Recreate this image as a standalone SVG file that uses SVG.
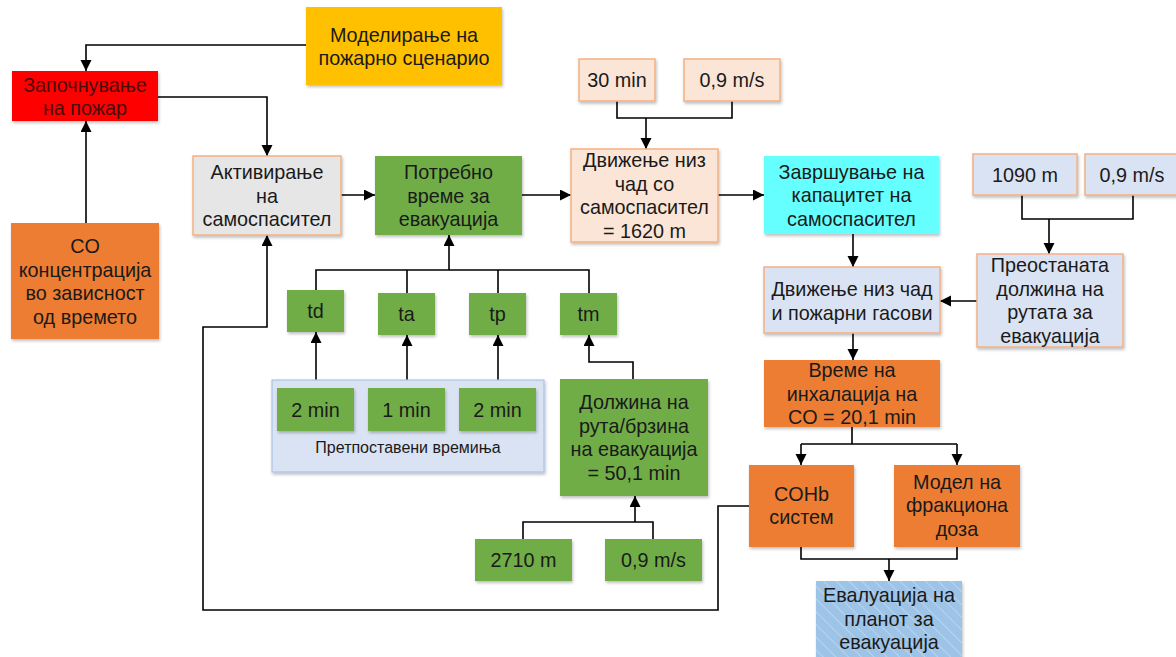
<svg xmlns="http://www.w3.org/2000/svg" width="1176" height="657" viewBox="0 0 1176 657">
<defs>
<marker id="arr" markerUnits="userSpaceOnUse" markerWidth="12" markerHeight="12" refX="11" refY="5.5" orient="auto">
<path d="M0,0 L11,5.5 L0,11 z" fill="#000"/>
</marker>
<filter id="sh" x="-10%" y="-10%" width="130%" height="130%">
<feDropShadow dx="1" dy="2" stdDeviation="1.5" flood-color="#000" flood-opacity="0.25"/>
</filter>
<pattern id="hatch" width="9" height="9" patternUnits="userSpaceOnUse" patternTransform="rotate(-45)">
<rect width="9" height="9" fill="#9DC3E6"/>
<line x1="0" y1="0" x2="0" y2="9" stroke="#B9D5EF" stroke-width="2"/>
</pattern>
</defs>
<style>
text{font-family:"Liberation Sans",Arial,sans-serif;font-size:19.8px;fill:#1a1a1a;text-anchor:middle}
.sm{font-size:16px}
.box{filter:url(#sh)}
.green{fill:#70AD47}
.orange{fill:#ED7D31}
.peach{fill:#FBE5D6;stroke:#F4B183;stroke-width:1.5}
.lav{fill:#DAE3F3;stroke:#F4B183;stroke-width:1.5}
.conn path{fill:none;stroke:#000;stroke-width:1.6}
</style>
<rect width="1176" height="657" fill="#fff"/>

<g id="connectors" class="conn">
<path d="M306,45 H86 V71" marker-end="url(#arr)"/>
<path d="M158,97 H267 V156" marker-end="url(#arr)"/>
<path d="M86,223 V121" marker-end="url(#arr)"/>
<path d="M341,195 H375" marker-end="url(#arr)"/>
<path d="M522,195 H571" marker-end="url(#arr)"/>
<path d="M617,101 V118 H732 V101"/>
<path d="M646,118 V149" marker-end="url(#arr)"/>
<path d="M718,195 H764" marker-end="url(#arr)"/>
<path d="M853,234 V267" marker-end="url(#arr)"/>
<path d="M1022,195 V219 H1133 V195"/>
<path d="M1049,219 V254" marker-end="url(#arr)"/>
<path d="M977,301 H940" marker-end="url(#arr)"/>
<path d="M853,333 V360" marker-end="url(#arr)"/>
<path d="M852,427 V444 M801,444 H957"/>
<path d="M801,444 V465" marker-end="url(#arr)"/>
<path d="M957,444 V465" marker-end="url(#arr)"/>
<path d="M801,547 V559 H957 V547"/>
<path d="M889,559 V581" marker-end="url(#arr)"/>
<path d="M749,506 H718 V610 H203 V327 H267 V235" marker-end="url(#arr)"/>
<path d="M316,290 V270 H589 V293 M407,270 V293 M498,270 V293"/>
<path d="M449,270 V235" marker-end="url(#arr)"/>
<path d="M316,388 V332" marker-end="url(#arr)"/>
<path d="M407,388 V335" marker-end="url(#arr)"/>
<path d="M498,388 V335" marker-end="url(#arr)"/>
<path d="M633,379 V362 H589 V335" marker-end="url(#arr)"/>
<path d="M523,539 V522 H653 V539"/>
<path d="M635,522 V496" marker-end="url(#arr)"/>
</g>

<g id="model">
<rect class="box" x="306" y="7" width="196" height="78" fill="#FFC000"/>
<text x="404" y="41.5">Моделирање на</text>
<text x="404" y="65">пожарно сценарио</text>
</g>
<g id="start">
<rect class="box" x="12" y="71" width="146" height="50" fill="#FF0000"/>
<text x="85" y="91.5" style="fill:#4a0c0c">Започнување</text>
<text x="85" y="115" style="fill:#4a0c0c">на пожар</text>
</g>
<g id="co">
<rect class="box orange" x="11" y="223" width="148" height="116"/>
<text x="85" y="253">CO</text>
<text x="85" y="276.5">концентрација</text>
<text x="85" y="300">во зависност</text>
<text x="85" y="323.5">од времето</text>
</g>
<g id="activ">
<rect class="box" x="193" y="156" width="148" height="79" fill="#E7E6E6" stroke="#F4B183" stroke-width="1.5"/>
<text x="267" y="179">Активирање</text>
<text x="267" y="202.5">на</text>
<text x="267" y="226">самоспасител</text>
</g>
<g id="potrebno">
<rect class="box green" x="375" y="156" width="147" height="79"/>
<text x="448.5" y="179">Потребно</text>
<text x="448.5" y="202.5">време за</text>
<text x="448.5" y="226">евакуација</text>
</g>
<g id="min30">
<rect class="box peach" x="579" y="59" width="76" height="42"/>
<text x="617" y="87">30 min</text>
</g>
<g id="speed1">
<rect class="box peach" x="684" y="59" width="96" height="42"/>
<text x="732" y="87">0,9 m/s</text>
</g>
<g id="dvizh1">
<rect class="box peach" x="571" y="149" width="147" height="93"/>
<text x="644.5" y="167.25">Движење низ</text>
<text x="644.5" y="190.75">чад со</text>
<text x="644.5" y="214.25">самоспасител</text>
<text x="644.5" y="237.75">= 1620 m</text>
</g>
<g id="zavrsh">
<rect class="box" x="764" y="156" width="175" height="78" fill="#66FFFF"/>
<text x="851.5" y="178.5">Завршување на</text>
<text x="851.5" y="202">капацитет на</text>
<text x="851.5" y="225.5">самоспасител</text>
</g>
<g id="m1090">
<rect class="box lav" x="973" y="154" width="104" height="41"/>
<text x="1025" y="181.5">1090 m</text>
</g>
<g id="speed2">
<rect class="box lav" x="1085" y="154" width="95" height="41"/>
<text x="1132" y="181.5">0,9 m/s</text>
</g>
<g id="preost">
<rect class="box lav" x="977" y="254" width="146" height="93"/>
<text x="1050" y="272.25">Преостаната</text>
<text x="1050" y="295.75">должина на</text>
<text x="1050" y="319.25">рутата за</text>
<text x="1050" y="342.75">евакуација</text>
</g>
<g id="dvizh2">
<rect class="box lav" x="764" y="267" width="176" height="66"/>
<text x="852" y="296">Движење низ чад</text>
<text x="852" y="319.5">и пожарни гасови</text>
</g>
<g id="vreme">
<rect class="box orange" x="764" y="360" width="176" height="67"/>
<text x="852" y="377">Време на</text>
<text x="852" y="400.5">инхалација на</text>
<text x="852" y="424">CO = 20,1 min</text>
</g>
<g id="cohb">
<rect class="box orange" x="749" y="465" width="105" height="82"/>
<text x="801.5" y="500.5">COHb</text>
<text x="801.5" y="524">систем</text>
</g>
<g id="model2">
<rect class="box orange" x="894" y="465" width="126" height="82"/>
<text x="957" y="488.5">Модел на</text>
<text x="957" y="512">фракциона</text>
<text x="957" y="535.5">доза</text>
</g>
<g id="eval">
<rect class="box" x="816" y="581" width="146" height="82" fill="url(#hatch)"/>
<text x="889" y="602">Евалуација на</text>
<text x="889" y="625.5">планот за</text>
<text x="889" y="649">евакуација</text>
</g>
<g id="td">
<rect class="box green" x="287" y="290" width="57" height="42"/>
<text x="315.5" y="318">td</text>
</g>
<g id="ta">
<rect class="box green" x="378" y="293" width="57" height="42"/>
<text x="406.5" y="321">ta</text>
</g>
<g id="tp">
<rect class="box green" x="469" y="293" width="57" height="42"/>
<text x="497.5" y="321">tp</text>
</g>
<g id="tm">
<rect class="box green" x="560" y="293" width="57" height="42"/>
<text x="588.5" y="321">tm</text>
</g>
<g id="assumed">
<rect class="box" x="272" y="380" width="272" height="92" fill="#DAE3F3" stroke="#A9C4E8" stroke-width="1.2"/>
<text class="sm" x="408" y="452.5">Претпоставени времиња</text>
</g>
<g id="min2a">
<rect class="box green" x="277" y="388" width="77" height="43"/>
<text x="315.5" y="416.5">2 min</text>
</g>
<g id="min1">
<rect class="box green" x="368" y="388" width="77" height="43"/>
<text x="406.5" y="416.5">1 min</text>
</g>
<g id="min2b">
<rect class="box green" x="459" y="388" width="77" height="43"/>
<text x="497.5" y="416.5">2 min</text>
</g>
<g id="dolzh">
<rect class="box green" x="560" y="379" width="148" height="117"/>
<text x="634" y="409.25">Должина на</text>
<text x="634" y="432.75">рута/брзина</text>
<text x="634" y="456.25">на евакуација</text>
<text x="634" y="479.75">= 50,1 min</text>
</g>
<g id="m2710">
<rect class="box green" x="475" y="539" width="97" height="42"/>
<text x="523.5" y="567">2710 m</text>
</g>
<g id="speed3">
<rect class="box green" x="605" y="539" width="97" height="42"/>
<text x="653.5" y="567">0,9 m/s</text>
</g>
</svg>
